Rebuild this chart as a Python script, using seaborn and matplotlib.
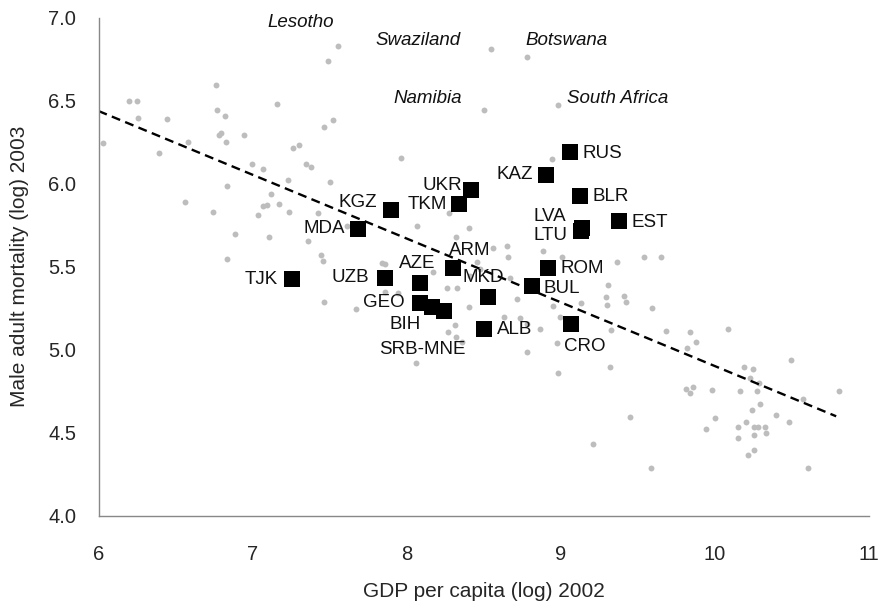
import matplotlib
matplotlib.use("Agg")
import matplotlib.pyplot as plt
import seaborn as sns
import pandas as pd

# ---- data ----
gray_x = [7.557, 7.488, 6.763, 6.200, 6.252, 6.767, 6.819, 7.159, 6.254, 6.445,
          6.031, 7.464, 7.525, 6.784, 6.795, 6.828, 6.945, 6.583, 6.395, 7.265,
          7.304, 6.999, 7.068, 7.345, 7.382, 8.547, 8.781, 8.505, 8.982, 7.964,
          8.947, 7.231, 7.503, 6.834, 6.562, 7.122, 6.741, 7.066, 7.092, 7.174,
          7.034, 7.235, 7.423, 7.611, 6.888, 7.107, 7.360, 6.834, 7.443, 7.460,
          7.841, 7.858, 7.860, 7.464, 7.670, 8.278, 8.408, 8.066, 8.321, 8.564,
          8.651, 8.888, 9.010, 8.657, 8.174, 8.455, 8.412, 9.365, 9.544, 9.653,
          8.672, 9.310, 8.261, 8.330, 7.947, 8.716, 9.295, 9.412, 9.425, 9.133,
          9.304, 9.596, 8.408, 8.953, 8.630, 8.737, 8.315, 8.867, 8.780, 8.997,
          8.272, 8.321, 8.358, 8.062, 8.780, 8.980, 9.319, 9.685, 9.330, 8.986,
          9.839, 9.882, 9.823, 10.088, 10.495, 10.192, 10.248, 10.231, 10.291, 9.813,
          9.860, 9.841, 9.984, 10.166, 10.274, 10.810, 10.573, 10.295, 10.243, 10.397,
          10.484, 9.453, 10.001, 9.947, 10.153, 10.203, 10.259, 10.281, 10.330, 10.254,
          10.334, 10.153, 10.220, 10.257, 9.586, 10.610, 9.209, 8.480]
gray_y = [6.831, 6.737, 6.593, 6.496, 6.496, 6.444, 6.406, 6.478, 6.394, 6.388,
          6.247, 6.344, 6.382, 6.292, 6.307, 6.249, 6.292, 6.253, 6.185, 6.217,
          6.233, 6.117, 6.087, 6.117, 6.099, 6.811, 6.761, 6.442, 6.476, 6.155,
          6.151, 6.022, 6.010, 5.986, 5.891, 5.940, 5.828, 5.864, 5.870, 5.876,
          5.814, 5.829, 5.823, 5.747, 5.699, 5.679, 5.655, 5.546, 5.572, 5.534,
          5.522, 5.518, 5.348, 5.286, 5.245, 5.822, 5.731, 5.745, 5.681, 5.613,
          5.625, 5.595, 5.560, 5.560, 5.470, 5.526, 5.443, 5.526, 5.557, 5.557,
          5.430, 5.392, 5.370, 5.370, 5.340, 5.304, 5.319, 5.325, 5.286, 5.283,
          5.269, 5.249, 5.255, 5.263, 5.199, 5.189, 5.149, 5.123, 5.153, 5.199,
          5.109, 5.078, 5.048, 4.922, 4.986, 5.039, 4.894, 5.114, 5.120, 4.861,
          5.109, 5.046, 5.012, 5.127, 4.938, 4.898, 4.884, 4.831, 4.797, 4.761,
          4.773, 4.737, 4.755, 4.749, 4.749, 4.749, 4.703, 4.673, 4.637, 4.607,
          4.564, 4.596, 4.587, 4.524, 4.534, 4.564, 4.536, 4.536, 4.536, 4.488,
          4.498, 4.466, 4.367, 4.394, 4.287, 4.287, 4.430, 5.486]

countries = ["RUS", "KAZ", "UKR", "TKM", "KGZ", "MDA", "BLR", "LVA", "LTU", "EST",
             "ARM", "AZE", "UZB", "TJK", "MKD", "ROM", "BUL", "GEO", "BIH",
             "SRB-MNE", "ALB", "CRO"]
country_x = [9.063, 8.904, 8.419, 8.341, 7.897, 7.687, 9.127, 9.140, 9.135, 9.382,
             8.300, 8.088, 7.860, 7.258, 8.531, 8.921, 8.813, 8.088, 8.168,
             8.244, 8.505, 9.066]
country_y = [6.189, 6.052, 5.962, 5.876, 5.842, 5.725, 5.928, 5.735, 5.718, 5.775,
             5.490, 5.400, 5.434, 5.426, 5.319, 5.490, 5.386, 5.283, 5.259,
             5.235, 5.123, 5.157]
# label anchor positions (data coords) and alignment
label_x = [9.146, 8.82, 8.36, 8.26, 7.81, 7.60, 9.205, 8.827, 8.827, 9.464,
           8.41, 8.07, 7.76, 7.165, 8.50, 9.00, 8.89, 7.985, 7.99,
           8.10, 8.587, 9.155]
label_y = [6.184, 6.057, 5.99, 5.876, 5.888, 5.732, 5.925, 5.804, 5.689, 5.768,
           5.60, 5.52, 5.437, 5.425, 5.437, 5.49, 5.37, 5.285, 5.154,
           5.004, 5.124, 5.022]
label_ha = ["left", "right", "right", "right", "right", "right", "left", "left", "left", "left",
            "center", "center", "right", "right", "center", "left", "left", "right", "center",
            "center", "left", "center"]

africa_names = ["Lesotho", "Swaziland", "Botswana", "Namibia", "South Africa"]
africa_x = [7.31, 8.075, 9.04, 8.14, 9.37]
africa_y = [6.97, 6.865, 6.865, 6.516, 6.516]

trend_x = [6.0, 10.79]
trend_y = [6.438, 4.599]

# ---- plot ----
sns.set_style("white")
plt.rcParams["font.family"] = ["Liberation Sans", "DejaVu Sans"]

fig = plt.figure(figsize=(8.82, 6.05), dpi=100)
ax = fig.add_axes([0.1117, 0.1476, 0.8730, 0.8231])

gray_df = pd.DataFrame({"x": gray_x, "y": gray_y})
sq_df = pd.DataFrame({"x": country_x, "y": country_y, "c": countries})
tr_df = pd.DataFrame({"x": trend_x, "y": trend_y})

sns.scatterplot(data=gray_df, x="x", y="y", ax=ax, color="#bdbdbd", s=18,
                linewidth=0, zorder=1)
sns.lineplot(data=tr_df, x="x", y="y", ax=ax, color="black", linewidth=1.7,
             dashes=False, zorder=2)
ax.lines[-1].set_dashes([3.8, 2.3])
sns.scatterplot(data=sq_df, x="x", y="y", ax=ax, color="black", marker="s", s=125,
                linewidth=0, zorder=3)

for n, lx, ly, ha in zip(countries, label_x, label_y, label_ha):
    ax.text(lx, ly, n, ha=ha, va="center", fontsize=13.5, color="#111111", zorder=4)
for n, lx, ly in zip(africa_names, africa_x, africa_y):
    ax.text(lx, ly, n, ha="center", va="center", fontsize=13.5, style="italic",
            color="#111111", zorder=4)

ax.set_xlim(6, 11)
ax.set_ylim(4.0, 7.0)
ax.set_xticks([6, 7, 8, 9, 10, 11])
ax.set_yticks([4.0, 4.5, 5.0, 5.5, 6.0, 6.5, 7.0])
ax.set_yticklabels(["4.0", "4.5", "5.0", "5.5", "6.0", "6.5", "7.0"])
ax.set_xlabel("GDP per capita (log) 2002", fontsize=15, labelpad=13)
ax.set_ylabel("Male adult mortality (log) 2003", fontsize=15, labelpad=14)
ax.tick_params(axis="both", labelsize=14.5, length=4, width=0.8, color="#888888",
               direction="out")
ax.tick_params(axis="x", pad=17)
ax.tick_params(axis="y", pad=12)
for side in ["top", "right"]:
    ax.spines[side].set_visible(False)
for side in ["left", "bottom"]:
    ax.spines[side].set_color("#888888")
    ax.spines[side].set_linewidth(1.0)

fig.savefig("out.png", dpi=100)
